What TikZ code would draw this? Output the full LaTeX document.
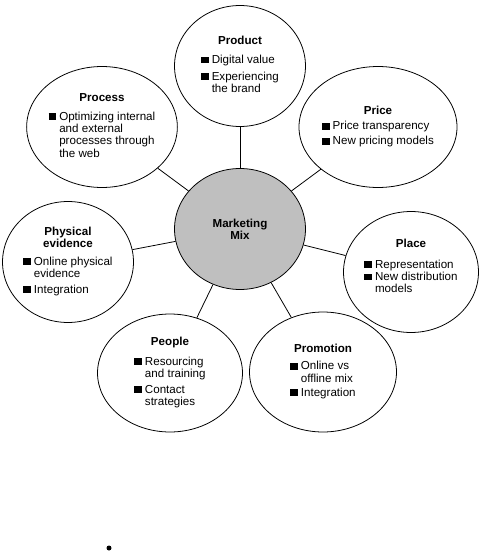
\documentclass[tikz,border=0pt]{standalone}
\usepackage{fontspec}
\setmainfont{Liberation Sans}
\usetikzlibrary{shapes.geometric}
\newcommand{\sqb}{\rule{4.2pt}{3.9pt}\hspace{1.8pt}}
\newcommand{\sqi}{\hphantom{\sqb}}
\newcommand{\ttl}[1]{\textbf{#1}}

\begin{document}
\begin{tikzpicture}[x=0.02cm, y=-0.02cm, every node/.style={font=\fontsize{6.6}{7}\selectfont},
  mixcircle/.style={draw, line width=0.45pt, ellipse, minimum width=2.62cm, minimum height=2.42cm, inner sep=0pt, align=center},
  link/.style={line width=0.45pt}]
  \useasboundingbox (0,0) rectangle (479,551);
  \node[mixcircle,fill=black!25] (mix) at (240,229) {\ttl{Marketing}\\ \ttl{Mix}};
  \node[mixcircle] (prod) at (240,66) {\ttl{Product}\\[5pt] \begin{tabular}{@{}l@{}}\sqb Digital value\\[2.5pt] \sqb Experiencing\\ \sqi the brand\end{tabular}};
  \node[mixcircle] (proc) at (102,127) {\ttl{Process}\\[5pt] \begin{tabular}{@{}l@{}}\sqb Optimizing internal\\ \sqi and external\\ \sqi processes through\\ \sqi the web\end{tabular}};
  \node[mixcircle] (price) at (378,127) {\ttl{Price}\\[3pt] \begin{tabular}{@{}l@{}}\sqb Price transparency\\[1.5pt] \sqb New pricing models\end{tabular}};
  \node[mixcircle] (phys) at (68,262) {\ttl{Physical}\\ \ttl{evidence}\\[4pt] \begin{tabular}{@{}l@{}}\sqb Online physical\\ \sqi evidence\\[2pt] \sqb Integration\end{tabular}};
  \node[mixcircle,minimum width=2.7cm] (place) at (411,272) {\ttl{Place}\\[6pt] \begin{tabular}{@{}l@{}}\sqb Representation\\ \sqb New distribution\\ \sqi models\end{tabular}\\[4pt]};
  \node[mixcircle,minimum width=2.9cm,minimum height=2.36cm] (people) at (170,373) {\ttl{People}\\[4pt] \begin{tabular}{@{}l@{}}\sqb Resourcing\\ \sqi and training\\[2pt] \sqb Contact\\ \sqi strategies\end{tabular}};
  \node[mixcircle,minimum width=2.94cm,minimum height=2.4cm] (promo) at (323,372) {\ttl{Promotion}\\[4pt] \begin{tabular}{@{}l@{}}\sqb Online vs\\ \sqi offline mix\\[1pt] \sqb Integration\end{tabular}};
  \draw[link] (prod) -- (mix);
  \draw[link] (proc) -- (mix);
  \draw[link] (price) -- (mix);
  \draw[link] (phys) -- (mix);
  \draw[link] (place) -- (mix);
  \draw[link] (people) -- (mix);
  \draw[link] (promo) -- (mix);
  \node[circle,fill,inner sep=0pt,minimum size=0.1cm] (dot) at (109,548) {};
\end{tikzpicture}
\end{document}
